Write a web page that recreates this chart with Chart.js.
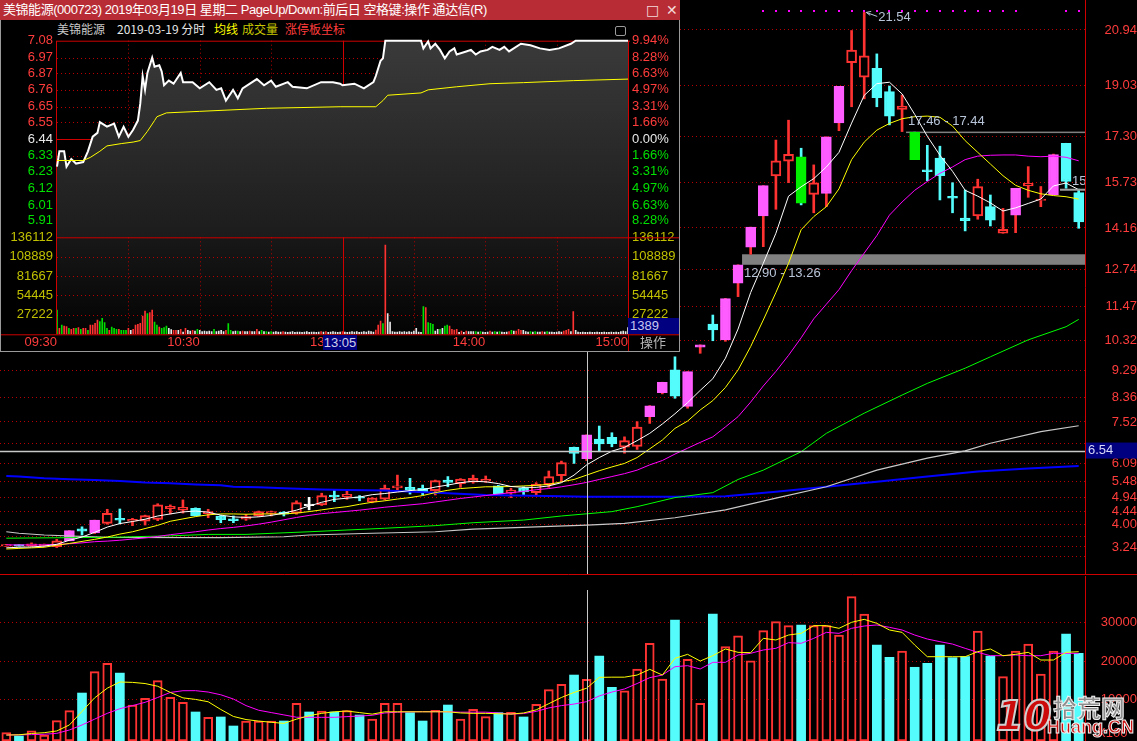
<!DOCTYPE html>
<html>
<head>
<meta charset="utf-8">
<script src="https://cdn.jsdelivr.net/npm/chart.js@4.4.1/dist/chart.umd.min.js"></script>
<style>
html, body { margin: 0; padding: 0; background: #000; overflow: hidden; }
body { width: 1137px; height: 741px; position: relative; font-family: "Liberation Sans", Arial, sans-serif; }
canvas { position: absolute; display: block; }
#mainChart { left: 0; top: 0; }
#volChart { left: 0; top: 576px; }
#win { position: absolute; left: 0; top: 0; width: 680px; height: 352px; background: #000; }
#title { position: absolute; left: 0; top: 0; width: 680px; height: 20px; background: #b82d35; color: #fff;
  font: 13px "Liberation Sans", "Noto Sans CJK SC", sans-serif; letter-spacing: -0.45px; line-height: 20px; padding-left: 3px; box-sizing: border-box; white-space: nowrap; }
.btn { position: absolute; top: 0; color: #f4dada; font: 14px "DejaVu Sans", sans-serif; line-height: 20px; }
.hdr { position: absolute; top: 21px; font: 12px "Noto Sans CJK SC", sans-serif; line-height: 16px; white-space: nowrap; }
#icon { position: absolute; left: 615px; top: 26px; width: 9px; height: 8px; border: 1px solid #9a9a9a; border-radius: 2px; }
#inPrice { left: 0; top: 32px; }
#inVol { left: 0; top: 229px; }
#timeBox { position: absolute; left: 323px; top: 335px; width: 34px; height: 15px; background: #000080; color: #d0d0e8;
  font: 13px "Liberation Sans", sans-serif; line-height: 15px; text-align: center; }
#volBox { position: absolute; left: 628px; top: 318px; width: 52px; height: 16px; background: #000080; color: #c8c8f0;
  font: 13px "Liberation Sans", sans-serif; line-height: 16px; padding-left: 2px; box-sizing: border-box; }
#opLabel { position: absolute; left: 640px; top: 334px; color: #b4b4b4; font: 13px "Noto Sans CJK SC", sans-serif; line-height: 16px; }
#winL { position: absolute; left: 0; top: 20px; width: 1px; height: 332px; background: #9a9a9a; }
#winR { position: absolute; left: 679px; top: 20px; width: 1px; height: 332px; background: #9a9a9a; }
#winB { position: absolute; left: 0; top: 351px; width: 680px; height: 1px; background: #9a9a9a; }
.wm { position: absolute; white-space: nowrap; }
</style>
</head>
<body>
<canvas id="mainChart" width="1137" height="575"></canvas>
<canvas id="volChart" width="1137" height="165"></canvas>

<div id="win">
  <div id="title">美锦能源(000723) 2019年03月19日 星期二 PageUp/Down:前后日 空格键:操作 通达信(R)</div>
  <div class="btn" style="left:646px">□</div>
  <div class="btn" style="left:666px">✕</div>
  <div class="hdr" style="left:57px;color:#c8c8c8">美锦能源</div>
  <div class="hdr" style="left:117px;color:#e8e8e8">2019-03-19 分时</div>
  <div class="hdr" style="left:214px;color:#ffff00">均线</div>
  <div class="hdr" style="left:242px;color:#c8c800">成交量</div>
  <div class="hdr" style="left:285px;color:#ff3c3c">涨停板坐标</div>
  <div id="icon"></div>
  <canvas id="inPrice" width="680" height="214"></canvas>
  <canvas id="inVol" width="680" height="122"></canvas>
  <div id="timeBox">13:05</div>
  <div id="volBox">1389</div>
  <div id="opLabel">操作</div>
  <div id="winL"></div>
  <div id="winR"></div>
  <div id="winB"></div>
</div>

<div class="wm" style="left:996px;top:693px;font:italic bold 40px 'DejaVu Sans',sans-serif;color:#cc0a0a;-webkit-text-stroke:2px #d0d0d0;">10</div>
<div class="wm" style="left:1053px;top:689px;font:bold 24px 'Noto Sans CJK SC',sans-serif;color:#8c8c8c;-webkit-text-stroke:1px #f0f0f0;">拾荒网</div>
<div class="wm" style="left:1047px;top:717px;font:bold 18px 'Liberation Sans',sans-serif;color:#cc1010;-webkit-text-stroke:1px #f0f0f0;">Huang.CN</div>

<script>
// ---- daily data (86 trading days) ----
var days = [
  '2019-01-07','2019-01-08','2019-01-09','2019-01-10','2019-01-11','2019-01-14','2019-01-15','2019-01-16','2019-01-17','2019-01-18',
  '2019-01-21','2019-01-22','2019-01-23','2019-01-24','2019-01-25','2019-01-28','2019-01-29','2019-01-30','2019-01-31','2019-02-01',
  '2019-02-11','2019-02-12','2019-02-13','2019-02-14','2019-02-15','2019-02-18','2019-02-19','2019-02-20','2019-02-21','2019-02-22',
  '2019-02-25','2019-02-26','2019-02-27','2019-02-28','2019-03-01','2019-03-04','2019-03-05','2019-03-06','2019-03-07','2019-03-08',
  '2019-03-11','2019-03-12','2019-03-13','2019-03-14','2019-03-15','2019-03-18','2019-03-19','2019-03-20','2019-03-21','2019-03-22',
  '2019-03-25','2019-03-26','2019-03-27','2019-03-28','2019-03-29','2019-04-01','2019-04-02','2019-04-03','2019-04-04','2019-04-08',
  '2019-04-09','2019-04-10','2019-04-11','2019-04-12','2019-04-15','2019-04-16','2019-04-17','2019-04-18','2019-04-19','2019-04-22',
  '2019-04-23','2019-04-24','2019-04-25','2019-04-26','2019-04-29','2019-04-30','2019-05-06','2019-05-07','2019-05-08','2019-05-09',
  '2019-05-10','2019-05-13','2019-05-14','2019-05-15','2019-05-16','2019-05-17'
];
var openP = [3.28,3.31,3.28,3.30,3.25,3.45,3.86,3.72,4.05,4.22, 4.12,4.12,4.18,4.55,4.50,4.56,4.38,4.30,4.20,4.19,
  4.31,4.39,4.43,4.40,4.68,4.68,5.02,4.95,4.95,4.78, 4.88,5.26,5.28,5.25,5.17,5.53,5.41,5.46,5.49,5.33,
  5.08,5.25,5.10,5.37,5.68,6.65,6.26,6.93,6.99,6.66, 6.68,7.70,8.52,9.30,8.05,10.08,10.87,10.33,12.27,13.50,
  14.57,15.94,16.45,16.60,15.31,15.34,17.76,19.82,19.32,19.63, 18.83,18.22,17.44,16.15,16.55,15.24,14.50,14.57,14.89,13.98,
  14.60,15.60,15.10,15.29,17.06,15.37];
var highP = [3.33,3.32,3.38,3.34,3.50,3.80,3.93,4.16,4.53,4.54, 4.22,4.33,4.72,4.68,4.85,4.58,4.53,4.32,4.30,4.35,
  4.47,4.47,4.45,4.82,4.94,5.08,5.17,5.17,5.00,4.93, 5.36,5.70,5.59,5.36,5.53,5.65,5.58,5.70,5.67,5.35,
  5.25,5.30,5.44,5.84,6.18,6.66,7.08,7.38,7.15,7.01, 7.53,8.08,8.88,9.75,9.24,10.16,11.18,11.75,12.90,14.19,
  15.61,17.17,17.85,16.89,16.32,17.28,19.01,20.92,21.54,20.12, 19.02,18.71,17.44,16.99,16.96,15.71,15.46,15.83,15.29,14.83,
  15.52,16.26,15.58,16.69,17.06,15.49];
var lowP = [3.26,3.27,3.26,3.26,3.22,3.45,3.65,3.70,4.02,4.03, 3.97,3.99,4.14,4.37,4.40,4.30,4.24,4.07,4.07,4.15,
  4.28,4.30,4.30,4.36,4.51,4.66,4.79,4.87,4.82,4.75, 4.85,5.13,5.05,5.02,5.02,5.30,5.28,5.42,5.45,5.05,
  4.93,5.02,5.02,5.28,5.47,6.10,6.20,6.50,6.67,6.45, 6.58,7.47,8.48,8.33,7.99,9.87,10.30,10.28,11.81,13.26,
  13.52,14.80,15.71,14.95,14.68,14.89,17.49,18.31,18.58,18.31, 17.69,17.46,16.50,15.78,15.12,14.68,14.06,14.46,14.23,13.98,
  14.00,15.21,14.89,15.29,15.52,14.15];
var closeP = [3.31,3.28,3.35,3.32,3.45,3.80,3.78,4.16,4.39,4.16, 4.19,4.31,4.68,4.63,4.60,4.31,4.45,4.17,4.14,4.28,
  4.45,4.45,4.36,4.76,4.68,5.00,4.95,5.04,4.92,4.91, 5.25,5.33,5.18,5.10,5.51,5.45,5.56,5.59,5.56,5.05,
  5.19,5.12,5.39,5.65,6.13,6.44,7.08,6.77,6.78,6.88, 7.34,8.07,8.88,8.40,9.24,10.16,10.67,11.74,12.90,14.19,
  15.61,16.46,16.68,15.01,15.71,17.28,19.01,20.25,20.05,18.62, 17.99,18.33,16.50,16.09,15.95,15.18,14.41,15.58,14.43,14.11,
  15.52,15.69,15.15,16.67,15.75,14.37];
var volume = [1500,650,2000,900,4600,7200,11750,17260,19430,16900, 8650,10380,14940,10640,9350,6850,5470,5560,3230,4520,
  4520,4520,4520,9090,6850,7100,6850,7200,6070,5040, 9090,9090,6680,4520,7280,8650,5040,7540,5640,6680,
  6760,5560,8840,12610,14000,16400,15300,21300,13230,12350, 17960,24600,15370,30620,20460,9090,32170,23720,26560,20100,
  27860,30180,29150,29330,29150,29150,26740,36640,32170,24160, 20980,22610,18400,19430,24160,20880,21140,27780,21320,15970,
  22610,24420,16670,22610,27000,22020];

// moving averages
var ma5 = [3.21,3.23,3.24,3.27,3.33,3.47,3.58,3.74,3.92,4.04, 4.11,4.19,4.30,4.37,4.44,4.47,4.43,4.33,4.27,4.25,
  4.27,4.32,4.40,4.50,4.64,4.77,4.87,4.91,4.95,5.03, 5.07,5.12,5.17,5.20,5.29,5.36,5.44,5.49,5.47,5.41,
  5.31,5.28,5.28,5.33,5.44,5.70,6.05,6.30,6.52,6.65, 6.88,7.13,7.45,7.80,8.18,8.60,9.00,9.70,10.70,11.95,
  12.95,13.98,15.25,15.57,15.85,16.25,16.75,17.75,18.70,19.10, 19.15,18.75,18.05,17.30,16.65,16.10,15.45,15.25,15.02,14.74,
  14.85,15.00,15.15,15.60,15.70,15.47];
var ma10 = [3.17,3.19,3.21,3.23,3.30,3.36,3.43,3.50,3.58,3.68, 3.76,3.87,3.98,4.12,4.20,4.28,4.34,4.37,4.37,4.36,
  4.37,4.37,4.37,4.40,4.45,4.51,4.57,4.62,4.70,4.77, 4.82,4.88,4.93,5.00,5.10,5.18,5.24,5.27,5.30,5.30,
  5.31,5.33,5.35,5.38,5.47,5.55,5.70,5.85,5.98,6.10, 6.30,6.60,6.90,7.30,7.55,7.93,8.25,8.70,9.30,10.10,
  11.01,11.95,12.95,14.10,14.55,14.89,15.50,16.50,17.10,17.51, 17.74,17.90,17.97,17.99,17.95,17.65,17.15,16.75,16.35,15.95,
  15.62,15.45,15.33,15.27,15.23,15.15];
var ma20 = [3.31,3.31,3.31,3.31,3.33,3.35,3.38,3.42,3.44,3.47, 3.51,3.55,3.60,3.66,3.71,3.76,3.82,3.87,3.91,3.96,
  4.02,4.09,4.17,4.25,4.32,4.38,4.42,4.46,4.50,4.55, 4.60,4.64,4.68,4.72,4.78,4.84,4.90,4.95,5.00,5.05,
  5.10,5.14,5.20,5.24,5.30,5.37,5.45,5.55,5.65,5.75, 5.87,6.05,6.20,6.42,6.62,6.82,7.01,7.35,7.70,8.20,
  8.75,9.25,9.80,10.40,11.05,11.55,12.05,12.70,13.30,13.90, 14.60,15.05,15.45,15.75,16.03,16.25,16.50,16.62,16.65,16.66,
  16.66,16.62,16.60,16.62,16.58,16.46];
var ma60Idx = [0,8,13,16,19,24,27,30,34,37,41,44,48,50,53,56,58,60,63,65,68,71,73,76,78,81,84,85];
var ma60 = [3.54,3.57,3.62,3.67,3.67,3.76,3.82,3.88,3.97,4.07,4.16,4.30,4.45,4.62,4.93,5.10,5.55,5.87,6.50,7.13,7.82,8.44,8.84,9.36,9.75,10.33,10.78,11.03];
var ma120Idx = [0,1,3,8,17,22,24,29,34,37,42,46,49,53,57,61,65,69,73,76,78,82,85];
var ma120 = [3.76,3.71,3.65,3.57,3.56,3.59,3.65,3.71,3.76,3.85,3.93,3.99,4.05,4.24,4.51,4.91,5.30,5.87,6.28,6.53,6.79,7.19,7.39];
var ma250Idx = [0,1,3,5,7,9,11,13,15,17,18,20,22,25,27,30,35,38,44,46,53,57,61,65,69,73,77,81,85];
var ma250 = [5.67,5.65,5.59,5.56,5.53,5.50,5.45,5.42,5.38,5.35,5.30,5.28,5.25,5.21,5.19,5.17,5.08,5.02,4.98,4.96,4.96,4.98,5.13,5.30,5.47,5.65,5.82,5.93,6.01];
var volMa5 = [900,950,1300,1500,1950,3500,7000,10500,13000,14600, 14500,14200,13500,11900,10500,10100,9500,7500,5700,4900,
  4500,4200,3900,5000,5900,6500,6900,7100,6700,6300, 6900,6900,6900,6900,6900,6900,6600,6500,6500,6400,
  6300,6600,7400,9000,10600,11900,13000,15800,15850,15850, 16400,17870,16400,20710,21750,20020,21400,23130,22270,22180,
  25880,25450,26740,27170,29160,29160,28470,30020,30790,29760, 28040,27430,24160,21140,21140,21140,21140,22440,23130,21400,
  21750,22270,20280,20280,22270,22440];
var volMa10 = [900,950,1000,1100,1330,2200,3500,5000,6500,7700, 8500,9350,10600,11900,12350,12360,12000,11300,10200,8500,
  7300,6700,6100,5500,5470,5470,5470,5650,5800,6000, 6600,6800,6900,6930,6930,6900,6800,6800,6800,6600,
  6300,6450,7000,7900,8500,8900,9520,11000,12000,12800, 14200,15720,16400,18560,18820,17960,19680,19680,21580,22010,
  22870,23300,24770,24600,25880,27430,27170,28470,29070,29330, 28730,28040,26740,25710,25020,24400,23300,22270,21400,21400,
  21580,21400,21400,22010,22010,22010];

// axis ticks
var priceTicks = [20.94,19.03,17.30,15.73,14.16,12.74,11.47,10.32,9.29,8.36,7.52,6.77,6.09,5.48,4.94,4.44,4.00,3.60,3.24,2.92];
var gridOnlyTicks = [6.77,3.60,2.92];
var volTicks = [10000,20000,30000];

// annotations
var markIdx = [60,61,62,63,64,65,66,67,68,69,70,71,72,73,74,75,76,77,78,79,80,84,85];
var gapFrom = [58,71];
var gapLow = [12.90,17.44];
var gapHigh = [13.26,17.46];
var gapText = ['12.90 - 13.26','17.46 - 17.44'];
var peakIdx = 68, peakPrice = 21.54;
var crossIdx = 46, crossPrice = 6.54;

// ---- intraday 2019-03-19 ----
var inTimeMin = [0,1,3,4,6,8,11,13,15,17,18,21,24,26,28,30,32,34,35,36,37,38,40,41,43,44,45,47,49,52,53,57,60,64,67,69,71,74,76,78,
  84,87,90,92,97,99,105,111,116,119,120,125,129,133,134,136,137,138,153,154,156,157,159,161,163,165,167,168,172,174,
  176,178,181,183,186,188,190,195,199,203,207,211,216,218,240];
var inPrice = [6.26,6.36,6.36,6.26,6.31,6.28,6.29,6.36,6.455,6.48,6.55,6.52,6.54,6.455,6.52,6.455,6.50,6.56,6.67,6.85,
  6.76,6.87,6.97,6.91,6.92,6.88,6.79,6.82,6.80,6.87,6.81,6.81,6.77,6.81,6.76,6.77,6.69,6.76,6.705,6.77,
  6.83,6.79,6.82,6.78,6.81,6.78,6.77,6.81,6.81,6.80,6.79,6.80,6.77,6.81,6.85,6.95,6.965,7.08,7.08,7.03,
  7.075,7.03,7.06,7.02,6.965,7.01,7.03,6.99,7.01,7.02,6.99,7.01,7.02,7.04,7.02,7.04,7.01,7.06,7.05,7.03,
  7.02,7.03,7.06,7.08,7.08];
var inAvgMin = [0,4,11,14,18,21,27,32,35,38,41,42,46,60,88,119,134,137,139,153,156,168,182,196,217,240];
var inAvg = [6.30,6.30,6.30,6.32,6.36,6.395,6.41,6.42,6.43,6.49,6.56,6.585,6.61,6.62,6.64,6.65,6.65,6.69,6.725,6.74,6.76,6.78,6.80,6.807,6.82,6.83];
var inVolume = [34100,8400,13000,11600,10800,8400,7000,8400,8400,9400, 7000,8400,8400,5600,13000,13000,15400,20100,17800,22400,
  16400,8400,5600,10200,8400,7000,7000,5600,5600,5600, 8400,5600,7000,13000,14000,15400,25700,32700,29000,30400,
  34100,17300,13000,10200,8400,9400,11600,8400,6600,5600, 5600,5600,7000,3200,8400,5600,4600,5600,4600,7000,
  5600,3800,4600,3800,4600,3800,7000,3800,4600,5600, 3800,5600,15000,5600,3800,4600,4600,3800,4600,3800,
  3800,4600,3800,3800,7000,3800,5600,3800,3800,3200, 3800,3200,3800,3200,3200,3800,3200,2800,3200,3800,
  2800,3200,3200,2800,3200,3800,2800,3200,3200,2800, 3200,3800,3200,3800,2800,3200,3800,3200,2800,3200,
  3800,3200,2800,3200,3800,3200,3800,2800,3200,3800, 3200,4600,3800,3200,6000,13000,18600,15000,125300,29000,
  17300,3800,3200,3200,3800,3200,3800,3200,3800,3200, 4600,8400,3200,2800,38900,37500,16400,15400,14000,4600,
  7000,7000,8400,11600,13000,11600,7000,6000,7000,2800, 4600,2800,4600,3800,3800,3800,3800,3200,3800,3200,
  2800,3200,4600,3200,3800,3200,3800,3200,2800,3200, 3800,5600,4600,4600,7000,5600,5600,3800,3200,3800,
  3200,3800,3200,3200,3800,3200,3800,3200,3200,2800, 3200,3800,3200,4600,5600,7000,3800,31800,5600,3200,
  2800,3200,2800,2800,3200,2800,2800,3200,2800,2800, 3200,2800,2800,3200,2800,3200,2800,3800,4600,3800,
  9400];
var inVolDir = ['grgrrgrrgr','grrgrrrrgg','ggrgggrggg','rwrrrrrrgr','rggrgggwwr','rwrwrwwrwg','wwwwwwgwww','wrggwwgwrw',
  'wrwwrwgwgw','gwwwwrwwww','wwwwwwwwww','wrwrwwwwww','rwwwwwwwww','wwwwrrrgrw','wwwwwwwwww','wwwwgrgggw',
  'wgwggrrrrw','rwrwwwgwgw','wwrwgwgwww','rgwrrrwwwg','wgwwrwgwww','wwwrrrwrww','wwwwwwwwww','wwwwwwwwww','w'].join('');
var inPriceTicks = [7.08,6.97,6.87,6.76,6.65,6.55,6.44,6.33,6.23,6.12,6.01,5.91];
var inPctLabels = ['9.94%','8.28%','6.63%','4.97%','3.31%','1.66%','0.00%','1.66%','3.31%','4.97%','6.63%','8.28%'];
var inPrevClose = 6.44;
var inVolTicks = [136112,108889,81667,54445,27222];
var inTimeTicks = [0,60,120,180,240];
var inTimeLabels = ['09:30','10:30','13:00','14:00','15:00'];
var inGridMin = [30,60,90,120,150,180,210];

// ---- styling ----
var FONT = '"Liberation Sans", Arial, sans-serif';
var RED = '#ff3232', CYAN = '#54fcfc', PINK = '#ff5cff', LGREEN = '#00f000';
var GRID = '#b40000', AXIS = '#d00000', LABEL = '#ff3c3c', NOTE = '#b8c4d8';

Chart.defaults.font.family = FONT;
Chart.defaults.animation = false;

function candleKind(i) {
  var prev = i > 0 ? closeP[i - 1] : openP[i];
  if (closeP[i] >= prev * 1.095) return 'limitUp';
  if (closeP[i] <= prev * 0.905) return 'limitDown';
  if (closeP[i] > openP[i]) return 'up';
  if (closeP[i] < openP[i]) return 'down';
  return 'flat';
}
var kinds = days.map(function (d, i) { return candleKind(i); });
var bodyFill = { up: '#000000', down: CYAN, limitUp: PINK, limitDown: LGREEN, flat: '#ffffff' };
var bodyLine = { up: RED, down: CYAN, limitUp: PINK, limitDown: LGREEN, flat: '#ffffff' };
var wickCol = { up: RED, down: CYAN, limitUp: RED, limitDown: CYAN, flat: '#ffffff' };

function sparse(idx, vals) {
  return idx.map(function (d, k) { return { x: days[d], y: vals[k] }; });
}
function maLine(data, color, width, order) {
  return { type: 'line', data: data, borderColor: color, borderWidth: width, pointRadius: 0, tension: 0, fill: false, order: order };
}

var mainDecor = {
  id: 'mainDecor',
  beforeDatasetsDraw: function (chart) {
    var ctx = chart.ctx, area = chart.chartArea, x = chart.scales.x, y = chart.scales.y;
    ctx.save();
    ctx.fillStyle = '#808080';
    gapFrom.forEach(function (d, k) {
      var x0 = x.getPixelForValue(d) + 4;
      var top = y.getPixelForValue(gapHigh[k]);
      var h = Math.max(y.getPixelForValue(gapLow[k]) - top, 1.5);
      ctx.fillRect(x0, top, area.right - x0, h);
    });
    ctx.restore();
  },
  afterDatasetsDraw: function (chart) {
    var ctx = chart.ctx, area = chart.chartArea, x = chart.scales.x, y = chart.scales.y;
    ctx.save();
    ctx.beginPath();
    ctx.rect(area.left, area.top, area.right - area.left, area.bottom - area.top);
    ctx.clip();
    ctx.font = '13px ' + FONT;
    ctx.fillStyle = NOTE;
    ctx.textBaseline = 'middle';
    ctx.textAlign = 'left';
    gapFrom.forEach(function (d, k) {
      var x0 = x.getPixelForValue(d) + 6;
      var yy = k === 0 ? y.getPixelForValue(gapLow[k]) + 9 : y.getPixelForValue(gapHigh[k]) - 10;
      ctx.fillText(gapText[k], x0, yy);
    });
    var px = x.getPixelForValue(peakIdx) + 2, py = y.getPixelForValue(peakPrice);
    ctx.strokeStyle = NOTE;
    ctx.lineWidth = 1;
    ctx.beginPath();
    ctx.moveTo(px, py); ctx.lineTo(px + 11, py + 4);
    ctx.moveTo(px, py); ctx.lineTo(px + 5, py - 1);
    ctx.moveTo(px, py); ctx.lineTo(px + 4, py + 3);
    ctx.stroke();
    ctx.fillText(peakPrice.toFixed(2), px + 12, py + 5);
    var ly = y.getPixelForValue(ma5[ma5.length - 1]);
    ctx.fillStyle = '#a0a0a0';
    ctx.fillRect(area.right - 25, ly - 1, 25, 2);
    ctx.fillStyle = NOTE;
    ctx.fillText(ma5[ma5.length - 1].toFixed(2), area.right - 13, ly - 8);
    ctx.fillStyle = '#ff00ff';
    markIdx.forEach(function (i) { ctx.fillRect(Math.round(x.getPixelForValue(i)) - 1, area.top + 10, 2, 2); });
    ctx.strokeStyle = '#c8c8c8';
    ctx.lineWidth = 1.5;
    var cy = Math.round(y.getPixelForValue(crossPrice)) + 0.5;
    ctx.beginPath(); ctx.moveTo(area.left, cy); ctx.lineTo(area.right, cy); ctx.stroke();
    ctx.lineWidth = 1;
    var cx = Math.round(x.getPixelForValue(crossIdx)) + 0.5;
    ctx.beginPath(); ctx.moveTo(cx, 352); ctx.lineTo(cx, area.bottom); ctx.stroke();
    ctx.restore();
  },
  afterDraw: function (chart) {
    var ctx = chart.ctx, area = chart.chartArea, y = chart.scales.y;
    ctx.save();
    ctx.strokeStyle = AXIS;
    ctx.lineWidth = 1;
    ctx.beginPath();
    ctx.moveTo(area.right + 0.5, 0); ctx.lineTo(area.right + 0.5, chart.height);
    ctx.moveTo(0, chart.height - 0.5); ctx.lineTo(chart.width, chart.height - 0.5);
    ctx.stroke();
    var cy = y.getPixelForValue(crossPrice);
    ctx.fillStyle = '#000080';
    ctx.fillRect(area.right + 1, cy - 8, chart.width - area.right - 1, 16);
    ctx.fillStyle = '#d8d8f8';
    ctx.font = '13px ' + FONT;
    ctx.textBaseline = 'middle';
    ctx.textAlign = 'left';
    ctx.fillText(crossPrice.toFixed(2), area.right + 3, cy);
    ctx.restore();
  }
};

new Chart(document.getElementById('mainChart'), {
  type: 'bar',
  data: {
    labels: days,
    datasets: [
      maLine(ma5, '#ffffff', 1, 1),
      maLine(ma10, '#ffff00', 1, 2),
      maLine(ma20, '#ff00ff', 1, 3),
      maLine(sparse(ma60Idx, ma60), '#00ff00', 1, 4),
      maLine(sparse(ma120Idx, ma120), '#c8c8c8', 1.2, 5),
      maLine(sparse(ma250Idx, ma250), '#0000ff', 2, 6),
      {
        type: 'bar', order: 8, grouped: false, barThickness: 10, borderSkipped: false, borderWidth: 2,
        data: days.map(function (d, i) {
          var a = openP[i], b = closeP[i];
          if (Math.abs(a - b) < 0.05) { var m = (a + b) / 2; a = m - 0.025; b = m + 0.025; }
          return [a, b];
        }),
        backgroundColor: kinds.map(function (k) { return bodyFill[k]; }),
        borderColor: kinds.map(function (k) { return bodyLine[k]; })
      },
      {
        type: 'bar', order: 9, grouped: false, barThickness: 2, borderWidth: 0,
        data: days.map(function (d, i) { return [lowP[i], highP[i]]; }),
        backgroundColor: kinds.map(function (k) { return wickCol[k]; })
      }
    ]
  },
  options: {
    responsive: false, devicePixelRatio: 1, events: [],
    layout: { padding: 0 },
    plugins: { legend: { display: false }, tooltip: { enabled: false } },
    scales: {
      x: { type: 'category', display: false, offset: true },
      y: {
        position: 'right', min: 2.28, max: 21.965, beginAtZero: false,
        afterBuildTicks: function (s) { s.ticks = priceTicks.map(function (v) { return { value: v }; }); },
        afterFit: function (s) { s.width = 52; s.paddingTop = 0; s.paddingBottom = 0; },
        grid: { color: GRID, lineWidth: 1, drawTicks: false },
        border: { display: false, dash: [1, 3] },
        ticks: {
          autoSkip: false, color: LABEL, font: { size: 13 }, crossAlign: 'far', padding: 8,
          callback: function (v) { return gridOnlyTicks.indexOf(v) >= 0 ? '' : v.toFixed(2); }
        }
      }
    }
  },
  plugins: [mainDecor]
});

var volMin = -646, volMax = 41990;
var volDecor = {
  id: 'volDecor',
  afterDatasetsDraw: function (chart) {
    var ctx = chart.ctx, area = chart.chartArea, x = chart.scales.x;
    ctx.save();
    ctx.strokeStyle = '#c8c8c8';
    ctx.lineWidth = 1;
    var cx = Math.round(x.getPixelForValue(crossIdx)) + 0.5;
    ctx.beginPath(); ctx.moveTo(cx, 14); ctx.lineTo(cx, area.bottom); ctx.stroke();
    ctx.restore();
  },
  afterDraw: function (chart) {
    var ctx = chart.ctx, area = chart.chartArea;
    ctx.save();
    ctx.strokeStyle = AXIS;
    ctx.beginPath(); ctx.moveTo(area.right + 0.5, 0); ctx.lineTo(area.right + 0.5, chart.height); ctx.stroke();
    ctx.fillStyle = LABEL;
    ctx.font = '13px ' + FONT;
    ctx.textBaseline = 'middle';
    ctx.fillText('X100', area.right + 12, chart.height - 8);
    ctx.restore();
  }
};

var volUp = days.map(function (d, i) { return closeP[i] > openP[i]; });
new Chart(document.getElementById('volChart'), {
  type: 'bar',
  data: {
    labels: days,
    datasets: [
      maLine(volMa5, '#ffff00', 1, 1),
      maLine(volMa10, '#ff00ff', 1, 2),
      {
        type: 'bar', order: 5, barThickness: 9, borderSkipped: false, base: volMin,
        data: volume,
        backgroundColor: volUp.map(function (u) { return u ? '#000000' : CYAN; }),
        borderColor: volUp.map(function (u) { return u ? RED : CYAN; }),
        borderWidth: volUp.map(function (u) { return u ? 2 : 0; })
      }
    ]
  },
  options: {
    responsive: false, devicePixelRatio: 1, events: [],
    layout: { padding: 0 },
    plugins: { legend: { display: false }, tooltip: { enabled: false } },
    scales: {
      x: { type: 'category', display: false, offset: true },
      y: {
        position: 'right', min: volMin, max: volMax, beginAtZero: false,
        afterBuildTicks: function (s) { s.ticks = volTicks.map(function (v) { return { value: v }; }); },
        afterFit: function (s) { s.width = 52; s.paddingTop = 0; s.paddingBottom = 0; },
        grid: { color: GRID, lineWidth: 1, drawTicks: false },
        border: { display: false, dash: [1, 3] },
        ticks: { autoSkip: false, color: LABEL, font: { size: 13 }, crossAlign: 'far', padding: 8,
          callback: function (v) { return String(v); } }
      }
    }
  },
  plugins: [volDecor]
});

// ---- intraday panels ----
function priceColor(v) {
  if (Math.abs(v - inPrevClose) < 0.005) return '#e8e8e8';
  return v > inPrevClose ? LABEL : '#00e000';
}
// dotted grid of the intraday panels, solid at the midday break / previous close
function insetGrid(chart, yValues, solidY) {
  var ctx = chart.ctx, a = chart.chartArea, x = chart.scales.x, y = chart.scales.y;
  ctx.save();
  ctx.lineWidth = 1;
  inGridMin.forEach(function (m) {
    var px = Math.round(x.getPixelForValue(m)) + 0.5;
    ctx.setLineDash(m === 120 ? [] : [1, 3]);
    ctx.strokeStyle = m === 120 ? AXIS : GRID;
    ctx.beginPath(); ctx.moveTo(px, a.top); ctx.lineTo(px, a.bottom); ctx.stroke();
  });
  yValues.forEach(function (v) {
    var py = Math.round(y.getPixelForValue(v)) + 0.5;
    if (py <= a.top + 1) return;
    ctx.setLineDash(v === solidY ? [] : [1, 3]);
    ctx.strokeStyle = v === solidY ? AXIS : GRID;
    ctx.beginPath(); ctx.moveTo(a.left, py); ctx.lineTo(a.right, py); ctx.stroke();
  });
  ctx.restore();
}
var inPriceDecor = {
  id: 'inPriceDecor',
  beforeDatasetsDraw: function (chart) {
    var ctx = chart.ctx, a = chart.chartArea;
    insetGrid(chart, inPriceTicks, inPrevClose);
    ctx.save();
    ctx.strokeStyle = AXIS;
    ctx.lineWidth = 1;
    ctx.beginPath();
    ctx.moveTo(a.left, a.top + 0.5); ctx.lineTo(a.right + 2, a.top + 0.5);
    ctx.moveTo(a.left - 0.5, a.top); ctx.lineTo(a.left - 0.5, chart.height);
    ctx.moveTo(a.right + 0.5, a.top); ctx.lineTo(a.right + 0.5, chart.height);
    ctx.stroke();
    ctx.restore();
  }
};

new Chart(document.getElementById('inPrice'), {
  type: 'line',
  data: {
    datasets: [
      {
        data: inTimeMin.map(function (m, i) { return { x: m, y: inPrice[i] }; }),
        borderColor: '#ffffff', borderWidth: 2, pointRadius: 0, tension: 0, order: 2, clip: 4,
        fill: 'start',
        backgroundColor: function (c) {
          var a = c.chart.chartArea;
          if (!a) return 'rgba(60,60,60,1)';
          var g = c.chart.ctx.createLinearGradient(0, a.top, 0, a.bottom);
          g.addColorStop(0, '#3a3a3a');
          g.addColorStop(1, '#1c1c1c');
          return g;
        }
      },
      {
        data: inAvgMin.map(function (m, i) { return { x: m, y: inAvg[i] }; }),
        borderColor: '#ffff00', borderWidth: 1, pointRadius: 0, tension: 0, fill: false, order: 1
      }
    ]
  },
  options: {
    responsive: false, devicePixelRatio: 1, events: [],
    layout: { padding: { top: 8.7, bottom: 8.7, left: 0, right: 0 } },
    plugins: { legend: { display: false }, tooltip: { enabled: false } },
    scales: {
      x: { type: 'linear', min: 0, max: 240, display: false },
      y: {
        position: 'left', min: 5.80, max: 7.08,
        afterBuildTicks: function (s) { s.ticks = inPriceTicks.map(function (v) { return { value: v }; }); },
        afterFit: function (s) { s.width = 57; s.paddingTop = 0; s.paddingBottom = 0; },
        grid: { display: false, drawTicks: false },
        border: { display: false },
        ticks: { autoSkip: false, padding: 4, font: { size: 13 },
          color: function (c) { return priceColor(c.tick.value); },
          callback: function (v) { return v.toFixed(2); } }
      },
      y2: {
        position: 'right', min: 5.80, max: 7.08,
        afterBuildTicks: function (s) { s.ticks = inPriceTicks.map(function (v) { return { value: v }; }); },
        afterFit: function (s) { s.width = 52; s.paddingTop = 0; s.paddingBottom = 0; },
        grid: { display: false, drawTicks: false },
        border: { display: false },
        ticks: { autoSkip: false, padding: 4, font: { size: 13 },
          color: function (c) { return priceColor(c.tick.value); },
          callback: function (v, i) { return inPctLabels[i]; } }
      }
    }
  },
  plugins: [inPriceDecor]
});

var dirColor = { r: '#ff3232', g: '#00e000', w: '#e8e8e8' };
var inVolDecor = {
  id: 'inVolDecor',
  beforeDraw: function (chart) {
    var ctx = chart.ctx, a = chart.chartArea;
    var g = ctx.createLinearGradient(0, a.top, 0, a.bottom);
    g.addColorStop(0, '#181818');
    g.addColorStop(1, '#030303');
    ctx.save();
    ctx.fillStyle = g;
    ctx.fillRect(a.left, a.top, a.right - a.left, a.bottom - a.top);
    ctx.restore();
  },
  beforeDatasetsDraw: function (chart) { insetGrid(chart, inVolTicks, null); },
  afterDraw: function (chart) {
    var ctx = chart.ctx, a = chart.chartArea;
    ctx.save();
    ctx.strokeStyle = AXIS;
    ctx.lineWidth = 1;
    ctx.beginPath();
    ctx.moveTo(a.left, a.top + 0.5); ctx.lineTo(chart.width, a.top + 0.5);
    ctx.moveTo(0, a.bottom + 0.5); ctx.lineTo(chart.width, a.bottom + 0.5);
    ctx.moveTo(a.left - 0.5, 0); ctx.lineTo(a.left - 0.5, a.bottom);
    ctx.moveTo(a.right + 0.5, 0); ctx.lineTo(a.right + 0.5, chart.height);
    ctx.stroke();
    ctx.restore();
  }
};

new Chart(document.getElementById('inVol'), {
  type: 'bar',
  data: {
    datasets: [{
      data: inVolume.map(function (v, i) { return { x: i, y: v }; }),
      backgroundColor: inVolume.map(function (v, i) { return dirColor[inVolDir.charAt(i)]; }),
      barThickness: 1, borderWidth: 0
    }]
  },
  options: {
    responsive: false, devicePixelRatio: 1, events: [],
    layout: { padding: { top: 8.3, bottom: 0, left: 0, right: 0 } },
    plugins: { legend: { display: false }, tooltip: { enabled: false } },
    scales: {
      x: {
        type: 'linear', min: 0, max: 240, offset: false,
        afterBuildTicks: function (s) { s.ticks = inTimeTicks.map(function (v) { return { value: v }; }); },
        afterFit: function (s) { s.height = 16.7; },
        grid: { display: false, drawTicks: false },
        border: { display: false },
        ticks: { autoSkip: false, maxRotation: 0, align: 'end', padding: 0, color: LABEL, font: { size: 13 },
          callback: function (v, i) { return inTimeLabels[i]; } }
      },
      y: {
        position: 'left', min: 0, max: 136112,
        afterBuildTicks: function (s) { s.ticks = inVolTicks.map(function (v) { return { value: v }; }); },
        afterFit: function (s) { s.width = 57; s.paddingTop = 0; s.paddingBottom = 0; },
        grid: { display: false, drawTicks: false },
        border: { display: false },
        ticks: { autoSkip: false, padding: 4, color: '#c0c000', font: { size: 13 }, callback: function (v) { return String(v); } }
      },
      y2: {
        position: 'right', min: 0, max: 136112,
        afterBuildTicks: function (s) { s.ticks = inVolTicks.map(function (v) { return { value: v }; }); },
        afterFit: function (s) { s.width = 52; s.paddingTop = 0; s.paddingBottom = 0; },
        grid: { display: false, drawTicks: false },
        border: { display: false },
        ticks: { autoSkip: false, padding: 4, color: '#c0c000', font: { size: 13 }, callback: function (v) { return String(v); } }
      }
    }
  },
  plugins: [inVolDecor]
});
</script>
</body>
</html>
